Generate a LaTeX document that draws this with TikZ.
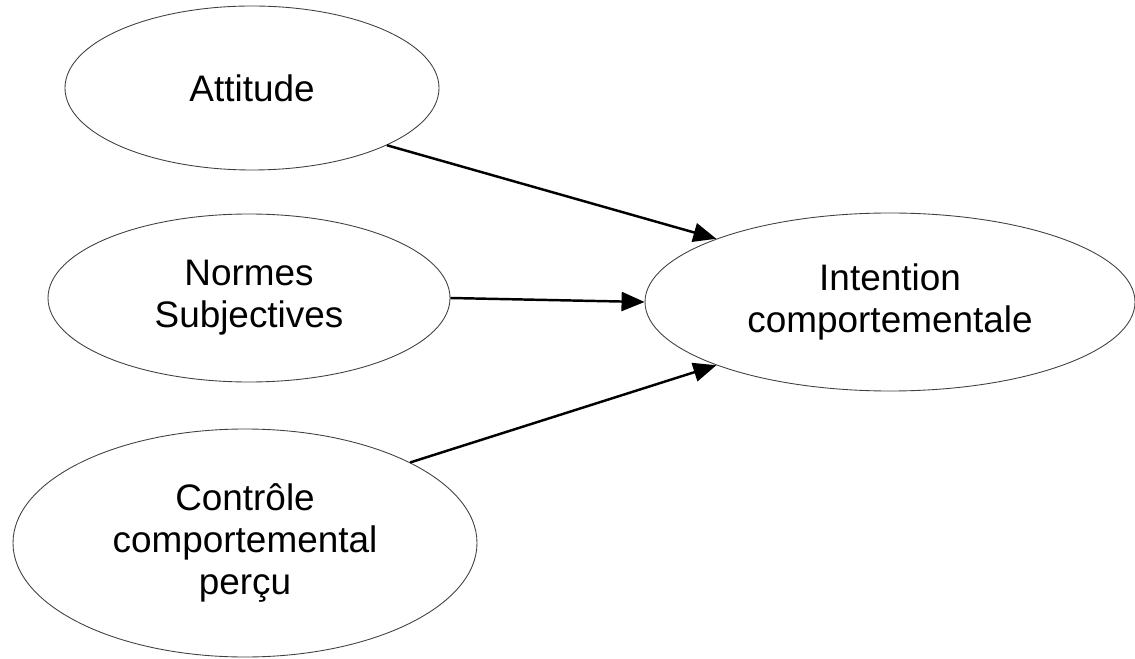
\documentclass[tikz,border=0pt]{standalone}
\usepackage{fontspec}
\setmainfont{Liberation Sans}
\usetikzlibrary{positioning}
\usetikzlibrary{shapes.geometric}
\usetikzlibrary{arrows.meta}
\tikzset{>={Triangle[length=4.6mm,width=3.8mm]}}
\tikzset{oval/.style={draw=black!75, ellipse, line width=0.5pt, inner sep=0pt, align=center,
    font=\fontsize{21}{24}\selectfont}}
\tikzset{link/.style={->, line width=1.4pt}}

\begin{document}
\begin{tikzpicture}
\useasboundingbox (0,0) rectangle (22.70,13.16);
\begin{scope}[on grid]

\node[oval, minimum width=8.04cm, minimum height=3.36cm] (norm) at (4.98,7.20) {Normes\\Subjectives};

\node[oval, minimum width=7.48cm, minimum height=3.28cm] (att) [above right = 4.20 and 0.06 of norm] {Attitude};
\node[oval, minimum width=9.28cm, minimum height=4.56cm] (ctrl) [below left = 4.90 and 0.08 of norm] {Contrôle\\comportemental\\perçu};

\node[oval, minimum width=9.80cm, minimum height=3.56cm] (int) [below right = 0.08 and 12.82 of norm] {Intention\\comportementale};

\draw[link] (att.-23) -- (int.160);
\draw[link] (norm.0) -- (int.180);
\draw[link] (ctrl.26) -- (int.-160);
\end{scope}
\end{tikzpicture}
\end{document}
